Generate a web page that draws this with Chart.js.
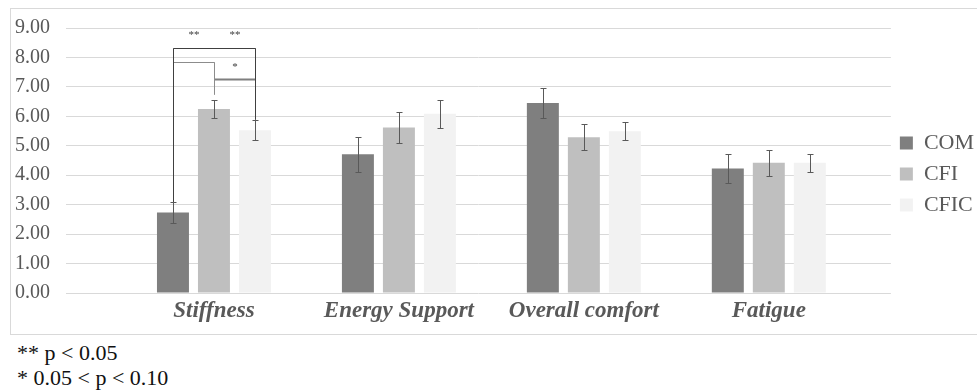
<!DOCTYPE html>
<html>
<head>
<meta charset="utf-8">
<script src="https://cdn.jsdelivr.net/npm/chart.js@4/dist/chart.umd.min.js"></script>
<style>
    body { margin: 0; width: 977px; height: 392px; overflow: hidden; background: #fff; position: relative; }
    .frame { position: absolute; left: 10px; top: 8px; width: 1000px; height: 325px; border: 1px solid #d9d9d9; }
    .chart-box { position: absolute; left: 0; top: 0; width: 984px; height: 340px; }
    .notes { position: absolute; left: 17px; top: 340px; font: 22px/25px "Liberation Serif", "Times New Roman", serif; color: #111; }
</style>
</head>
<body>
<div class="frame"></div>
<div class="chart-box"><canvas id="chart" width="984" height="340"></canvas></div>
<div class="notes">
    <div>** p &lt; 0.05</div>
    <div>* 0.05 &lt; p &lt; 0.10</div>
</div>
<script>
// Chart data
const categories = ['Stiffness', 'Energy Support', 'Overall comfort', 'Fatigue'];
const seriesNames = ['COM', 'CFI', 'CFIC'];
const comValues = [2.73, 4.71, 6.45, 4.23];
const cfiValues = [6.25, 5.62, 5.29, 4.42];
const cficValues = [5.53, 6.09, 5.49, 4.42];
const comErrors = [0.35, 0.60, 0.52, 0.50];
const cfiErrors = [0.31, 0.52, 0.45, 0.45];
const cficErrors = [0.35, 0.47, 0.31, 0.30];
const yTicks = [0, 1, 2, 3, 4, 5, 6, 7, 8, 9];

// Significance brackets in the Stiffness group: [series a, series b, level]
const sigBrackets = [[0, 2, 8.33], [0, 1, 7.83], [1, 2, 7.27]];
// Star labels: [series a, series b, level, text]
const sigStars = [[0, 1, 8.75, '**'], [1, 2, 8.75, '**'], [1, 2, 7.67, '*']];

const seriesValues = [comValues, cfiValues, cficValues];
const seriesErrors = [comErrors, cfiErrors, cficErrors];
const seriesColors = ['#7f7f7f', '#bfbfbf', '#f2f2f2'];

const errorBarPlugin = {
    id: 'errorBars',
    afterDatasetsDraw(chart) {
        const ctx = chart.ctx;
        const yScale = chart.scales.y;
        ctx.save();
        ctx.strokeStyle = '#595959';
        ctx.lineWidth = 1;
        seriesErrors.forEach((errors, d) => {
            const meta = chart.getDatasetMeta(d);
            meta.data.forEach((bar, i) => {
                const v = seriesValues[d][i];
                const top = Math.round(yScale.getPixelForValue(v + errors[i])) + 0.5;
                const bottom = Math.round(yScale.getPixelForValue(v - errors[i])) + 0.5;
                const x = Math.round(bar.x) + 0.5;
                ctx.beginPath();
                ctx.moveTo(x, top);
                ctx.lineTo(x, bottom);
                ctx.moveTo(x - 3, top);
                ctx.lineTo(x + 3, top);
                ctx.moveTo(x - 3, bottom);
                ctx.lineTo(x + 3, bottom);
                ctx.stroke();
            });
        });
        ctx.restore();
    }
};

const significancePlugin = {
    id: 'significance',
    afterDatasetsDraw(chart) {
        const ctx = chart.ctx;
        const yScale = chart.scales.y;
        const barX = d => Math.round(chart.getDatasetMeta(d).data[0].x) + 0.5;
        const errTop = d => yScale.getPixelForValue(seriesValues[d][0] + seriesErrors[d][0]);
        const styles = [
            { color: '#404040', width: 1, legs: true },
            { color: '#8c8c8c', width: 1, legs: true },
            { color: '#7f7f7f', width: 2, legs: false }
        ];
        ctx.save();
        // inner brackets first so the outer one stays on top
        for (let k = sigBrackets.length - 1; k >= 0; k--) {
            const [a, b, level] = sigBrackets[k];
            const y = Math.round(yScale.getPixelForValue(level)) + 0.5;
            ctx.strokeStyle = styles[k].color;
            if (styles[k].legs) {
                ctx.lineWidth = 1;
                ctx.beginPath();
                ctx.moveTo(barX(a), errTop(a));
                ctx.lineTo(barX(a), y);
                ctx.lineTo(barX(b), y);
                ctx.lineTo(barX(b), errTop(b) - (b === 1 ? 5 : 0));
                ctx.stroke();
            }
            ctx.lineWidth = styles[k].width;
            ctx.beginPath();
            ctx.moveTo(barX(a), y);
            ctx.lineTo(barX(b), y);
            ctx.stroke();
        }
        ctx.fillStyle = '#404040';
        ctx.font = '11px "Liberation Serif", serif';
        ctx.textAlign = 'center';
        ctx.textBaseline = 'middle';
        sigStars.forEach(([a, b, level, text]) => {
            const x = (barX(a) + barX(b)) / 2;
            ctx.fillText(text, x, yScale.getPixelForValue(level));
        });
        ctx.restore();
    }
};

const datasets = seriesNames.map((name, d) => ({
    label: name,
    data: categories.map((c, i) => ({ x: i, y: seriesValues[d][i] })),
    backgroundColor: seriesColors[d],
    borderWidth: 0,
    categoryPercentage: 0.665,
    barPercentage: 0.78
}));

new Chart(document.getElementById('chart'), {
    type: 'bar',
    data: { datasets: datasets },
    options: {
        responsive: false,
        animation: false,
        layout: { padding: { top: 20, left: 0, right: 0, bottom: 12 } },
        plugins: {
            tooltip: { enabled: false },
            legend: {
                position: 'right',
                labels: {
                    boxWidth: 13,
                    boxHeight: 13,
                    padding: 9,
                    color: '#595959',
                    font: { family: '"Liberation Serif", "Times New Roman", serif', size: 22 }
                }
            }
        },
        scales: {
            x: {
                type: 'linear',
                min: -0.8,
                max: 3.66,
                offset: false,
                grid: { display: false, drawTicks: false },
                border: { display: false },
                afterFit: scale => { scale.height = 35; },
                afterBuildTicks: scale => { scale.ticks = categories.map((c, i) => ({ value: i })); },
                ticks: {
                    autoSkip: false,
                    maxRotation: 0,
                    padding: 4,
                    color: '#595959',
                    font: { family: '"Liberation Serif", "Times New Roman", serif', size: 23, style: 'italic', weight: 'bold' },
                    callback: value => categories[value]
                }
            },
            y: {
                min: 0,
                max: 9,
                afterFit: scale => { scale.width = 66; },
                afterBuildTicks: scale => { scale.ticks = yTicks.map(v => ({ value: v })); },
                grid: { color: '#d9d9d9', drawTicks: false },
                border: { display: false },
                ticks: {
                    padding: 16,
                    color: '#595959',
                    font: { family: '"Liberation Serif", "Times New Roman", serif', size: 20 },
                    callback: value => value.toFixed(2)
                }
            }
        }
    },
    plugins: [errorBarPlugin, significancePlugin]
});
</script>
</body>
</html>
